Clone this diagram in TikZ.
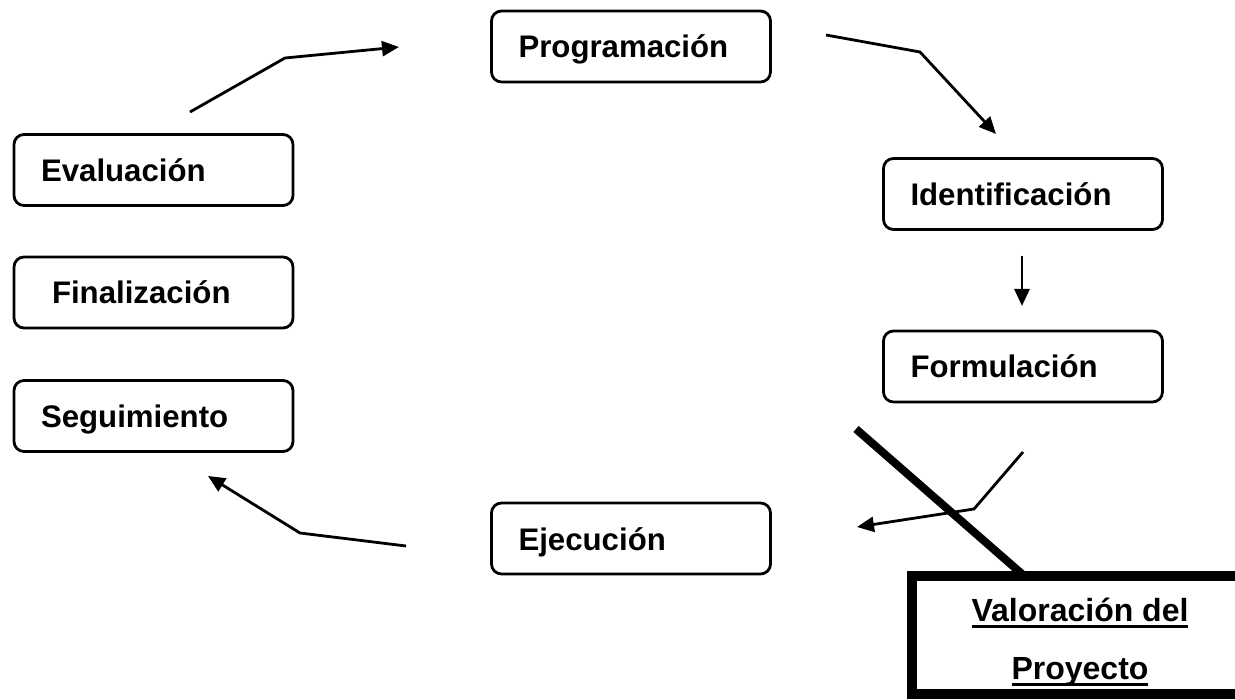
\documentclass[tikz,border=0pt]{standalone}
\usepackage{fontspec}
\setmainfont{Liberation Sans}
\usetikzlibrary{arrows.meta}
\newcommand\myul[1]{\setbox0\hbox{#1}\rlap{\rule[-6pt]{\wd0}{2.5pt}}\box0}
\begin{document}
\begin{tikzpicture}[x=1pt,y=-1pt,
  box/.style={draw=black, line width=2.8pt, rounded corners=10pt,
    minimum width=279pt, minimum height=71pt, align=left,
    text width=225pt, inner xsep=27pt, inner ysep=0pt,
    text height=23pt, text depth=0pt,
    font=\fontsize{31.2}{36}\selectfont\bfseries},
  arr/.style={line width=2.8pt, -{Triangle[length=17pt,width=15pt]}},
  heavy/.style={line width=8pt}]
\useasboundingbox (0,0) rectangle (1235,700);
\clip (0,0) rectangle (1235,700);
% boxes
\node[box] (prog) at (631,46.5) {Programación};
\node[box] (ident) at (1023,194) {Identificación};
\node[box] (form) at (1023,366.5) {Formulación};
\node[box] (ejec) at (631,538.5) {Ejecución};
\node[box] (eval) at (153.5,170) {Evaluación};
\node[box, text width=203pt, inner xsep=38pt] (fina) at (153.5,292.5) {Finalización};
\node[box] (segu) at (153.5,416) {Seguimiento};
\node[draw=black, line width=10pt, minimum width=336pt, minimum height=118pt,
      align=center, inner sep=0pt,
      font=\fontsize{32}{58}\selectfont\bfseries] (valor) at (1080,635)
      {\rule{0pt}{38pt}\myul{Valoración del}\\[0pt]\myul{Proyecto}};
% connector points
\coordinate (a1s) at (190,112); \coordinate (a1m) at (285,58); \coordinate (a1e) at (399,47);
\coordinate (a2s) at (826,35); \coordinate (a2m) at (920,52); \coordinate (a2e) at (996,134);
\coordinate (a3s) at (1022,256); \coordinate (a3e) at (1022,306);
\coordinate (a4s) at (1023,452); \coordinate (a4m) at (974,509); \coordinate (a4e) at (857,527);
\coordinate (a5s) at (406,546); \coordinate (a5m) at (300,533); \coordinate (a5e) at (208,476);
\coordinate (hs) at (856,429); \coordinate (he) at (1022,574);
% connectors
\draw[arr] (a1s) -- (a1m) -- (a1e);
\draw[arr] (a2s) -- (a2m) -- (a2e);
\draw[arr] (a3s) -- (a3e);
\draw[arr] (a4s) -- (a4m) -- (a4e);
\draw[arr] (a5s) -- (a5m) -- (a5e);
\draw[heavy] (hs) -- (he);
\end{tikzpicture}
\end{document}
